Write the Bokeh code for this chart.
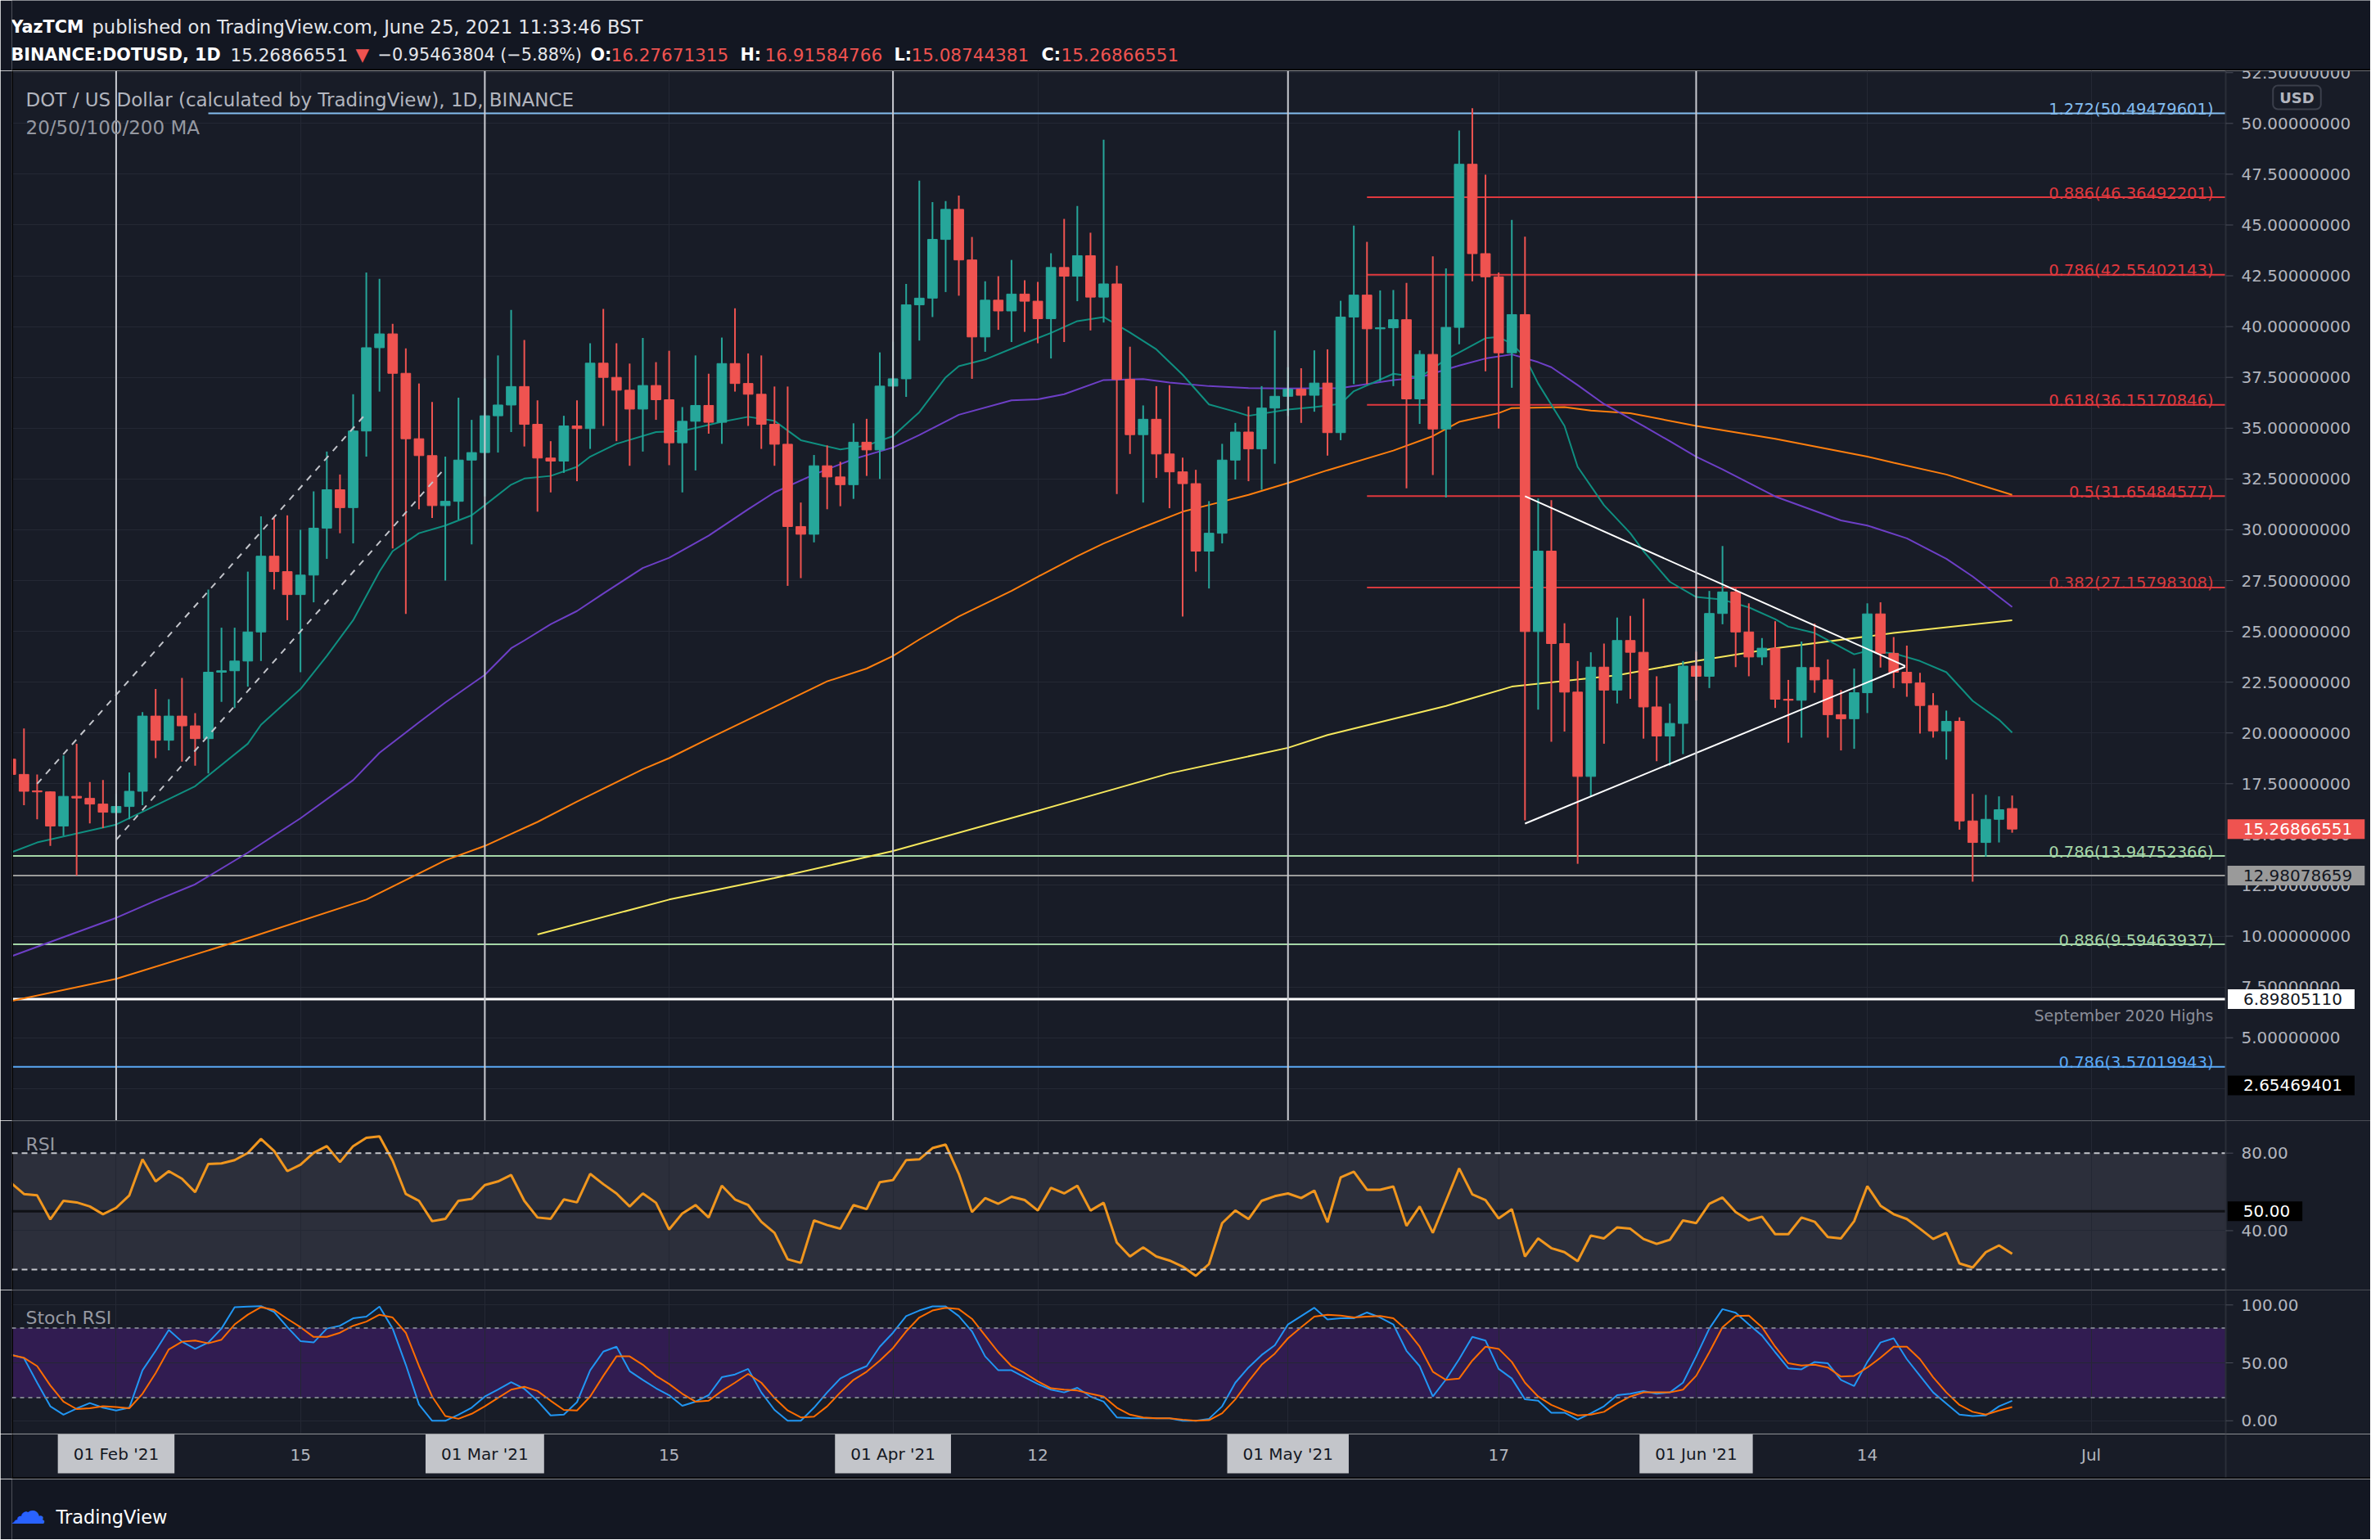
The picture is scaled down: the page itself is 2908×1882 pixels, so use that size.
import pandas as pd
from bokeh.plotting import figure
from bokeh.layouts import column
from bokeh.models import (Range1d, FixedTicker, Span, BoxAnnotation, Label, Arrow,
                          ColumnDataSource)
from bokeh.embed import file_html
from bokeh.resources import INLINE

# ===================== DATA =====================
first_date = "2021-01-24"          # one daily candle per day from this date

opens = [
    18.71, 17.96, 17.15, 17.10, 15.42, 16.88, 16.78, 16.50, 16.08, 16.38,
    17.13, 20.83, 19.64, 20.83, 20.35, 19.72, 22.99, 23.06, 23.54, 24.97,
    28.70, 27.94, 26.81, 27.77, 30.08, 31.97, 31.09, 34.86, 38.96, 39.64,
    37.70, 34.48, 33.65, 31.19, 31.40, 33.43, 33.80, 35.61, 36.14, 37.05,
    35.19, 33.53, 33.38, 35.11, 34.98, 38.20, 37.50, 36.87, 35.94, 37.10,
    36.40, 34.28, 35.34, 36.12, 35.29, 38.18, 37.20, 36.67, 35.19, 34.21,
    30.16, 29.78, 33.15, 32.60, 32.22, 34.31, 33.93, 37.07, 37.43, 41.07,
    41.40, 44.29, 45.77, 43.28, 39.49, 41.30, 40.77, 41.60, 41.25, 40.39,
    42.91, 42.48, 43.49, 41.45, 42.10, 37.40, 34.68, 35.44, 33.73, 32.85,
    32.27, 28.95, 29.83, 33.43, 34.81, 33.98, 35.99, 36.57, 36.92, 36.62,
    37.22, 34.78, 40.47, 41.55, 39.89, 39.94, 40.34, 36.44, 38.63, 34.96,
    39.96, 47.99, 43.59, 42.45, 38.71, 40.59, 24.99, 28.95, 24.40, 22.01,
    17.86, 23.24, 22.11, 24.55, 23.97, 21.28, 19.85, 20.47, 23.29, 22.79,
    25.88, 26.94, 24.97, 23.74, 24.17, 21.66, 21.61, 23.22, 22.61, 20.90,
    20.70, 21.98, 25.86, 23.92, 22.99, 22.46, 21.35, 20.10, 20.57, 15.67,
    14.61, 15.75, 16.28,
]
highs = [
    18.95, 20.22, 17.96, 17.13, 18.89, 19.47, 17.58, 17.68, 17.00, 18.06,
    21.03, 22.16, 21.66, 22.71, 20.98, 27.06, 25.18, 25.18, 27.94, 30.66,
    30.58, 30.71, 30.00, 31.89, 33.85, 32.72, 36.67, 42.66, 42.35, 40.14,
    38.93, 37.20, 36.29, 33.60, 36.50, 35.41, 37.45, 38.58, 40.82, 39.34,
    36.37, 34.36, 35.61, 36.37, 39.18, 40.87, 39.18, 38.18, 39.44, 38.25,
    38.81, 36.04, 38.58, 37.68, 39.46, 40.90, 38.68, 38.58, 37.05, 37.05,
    31.34, 33.68, 34.15, 33.35, 35.24, 35.46, 38.73, 39.26, 42.10, 47.18,
    46.13, 46.18, 46.45, 44.41, 42.23, 42.48, 43.28, 42.28, 42.20, 43.61,
    45.30, 45.93, 44.62, 49.20, 43.00, 39.01, 36.12, 37.07, 37.12, 33.55,
    32.95, 31.41, 34.23, 35.26, 36.07, 37.07, 39.81, 38.00, 37.95, 38.83,
    38.88, 41.27, 44.97, 44.17, 41.78, 41.80, 42.15, 38.83, 43.46, 42.86,
    49.65, 50.75, 47.48, 42.66, 45.25, 44.42, 31.54, 31.46, 25.40, 23.54,
    23.97, 24.40, 25.68, 25.76, 26.61, 22.79, 21.45, 23.54, 24.00, 26.99,
    29.20, 27.11, 26.38, 24.67, 25.50, 22.61, 24.50, 25.38, 23.62, 22.11,
    23.17, 26.38, 26.43, 24.72, 24.30, 22.96, 21.96, 21.10, 20.77, 17.00,
    16.95, 16.88, 16.92,
]
lows = [
    17.75, 16.45, 15.75, 14.44, 14.94, 12.98, 15.55, 15.32, 15.60, 15.75,
    16.45, 18.76, 19.14, 18.59, 18.39, 18.01, 21.53, 21.23, 22.28, 23.54,
    27.06, 25.55, 22.99, 26.43, 28.57, 29.83, 29.33, 33.60, 36.80, 29.08,
    25.86, 31.01, 30.58, 27.50, 30.50, 29.28, 31.64, 33.80, 34.81, 34.10,
    30.89, 31.84, 32.80, 32.39, 33.98, 35.11, 34.36, 33.15, 33.85, 35.41,
    33.18, 31.84, 32.92, 34.73, 34.23, 36.80, 35.11, 33.98, 33.15, 27.24,
    27.62, 29.38, 31.01, 31.16, 31.52, 32.65, 32.50, 35.24, 36.54, 39.31,
    40.47, 41.70, 41.52, 37.43, 38.76, 39.84, 39.24, 39.74, 39.18, 38.43,
    39.24, 41.25, 39.81, 40.20, 31.76, 33.73, 31.34, 32.55, 31.06, 25.73,
    27.94, 27.11, 29.33, 32.47, 32.39, 31.97, 33.25, 35.60, 35.26, 35.81,
    33.65, 34.41, 37.17, 37.17, 37.32, 37.07, 32.04, 35.21, 32.70, 31.59,
    39.13, 42.23, 37.80, 34.98, 36.99, 15.70, 21.15, 19.57, 20.07, 13.56,
    16.88, 19.47, 21.45, 21.68, 19.72, 18.61, 18.39, 18.96, 21.60, 22.21,
    25.35, 23.24, 22.79, 23.34, 21.23, 19.52, 19.77, 21.98, 19.77, 19.14,
    19.22, 20.98, 23.22, 22.21, 21.78, 19.97, 19.77, 18.69, 15.24, 12.68,
    13.91, 14.61, 15.09,
]
closes = [
    17.96, 17.13, 17.10, 15.42, 16.88, 16.80, 16.50, 16.10, 16.38, 17.13,
    20.83, 19.64, 20.83, 20.35, 19.72, 22.99, 23.06, 23.54, 24.97, 28.70,
    27.94, 26.81, 27.77, 30.08, 31.97, 31.09, 34.86, 38.96, 39.64, 37.70,
    34.48, 33.65, 31.19, 31.40, 33.43, 33.80, 35.61, 36.14, 37.05, 35.19,
    33.53, 33.38, 35.11, 34.98, 38.20, 37.50, 36.87, 35.94, 37.10, 36.40,
    34.28, 35.34, 36.12, 35.29, 38.18, 37.20, 36.67, 35.19, 34.21, 30.16,
    29.78, 33.15, 32.60, 32.22, 34.31, 33.93, 37.07, 37.43, 41.07, 41.40,
    44.29, 45.77, 43.28, 39.49, 41.30, 40.77, 41.60, 41.25, 40.39, 42.91,
    42.48, 43.49, 41.45, 42.10, 37.40, 34.68, 35.44, 33.73, 32.85, 32.27,
    28.95, 29.83, 33.43, 34.81, 33.98, 35.99, 36.57, 36.92, 36.62, 37.22,
    34.78, 40.47, 41.55, 39.89, 39.94, 40.34, 36.44, 38.63, 34.96, 39.96,
    47.99, 43.59, 42.45, 38.71, 40.59, 24.99, 28.95, 24.40, 22.01, 17.86,
    23.24, 22.11, 24.55, 23.97, 21.28, 19.85, 20.47, 23.29, 22.79, 25.88,
    26.94, 24.97, 23.74, 24.17, 21.66, 21.61, 23.22, 22.61, 20.90, 20.70,
    21.98, 25.86, 23.92, 22.99, 22.46, 21.35, 20.10, 20.57, 15.67, 14.61,
    15.75, 16.22, 15.27,
]

rsi = [
    64.7, 58.9, 58.2, 45.8, 55.4, 54.6, 52.5, 48.5, 51.8, 58.2,
    76.8, 65.4, 70.7, 66.8, 59.9, 74.4, 74.7, 76.4, 80.1, 87.3,
    81.1, 70.7, 74.0, 80.1, 83.6, 75.4, 83.6, 87.9, 88.6, 76.1,
    58.9, 55.4, 44.9, 46.1, 55.4, 56.4, 63.5, 65.4, 68.7, 55.4,
    46.8, 46.1, 56.1, 54.6, 69.3, 64.0, 59.2, 52.5, 59.2, 54.4,
    40.6, 48.9, 53.2, 46.8, 63.2, 56.1, 53.2, 44.6, 38.9, 25.3,
    23.4, 45.3, 42.9, 41.0, 53.2, 51.1, 65.0, 66.1, 76.4, 76.8,
    82.6, 84.4, 69.3, 49.6, 56.8, 53.9, 57.5, 55.8, 50.4, 62.1,
    59.2, 63.2, 50.4, 54.4, 33.9, 26.7, 31.4, 26.7, 24.6, 21.5,
    16.7, 22.8, 43.9, 50.4, 46.0, 55.4, 57.8, 59.2, 56.8, 60.7,
    44.3, 67.5, 70.4, 61.1, 61.1, 62.8, 42.5, 52.5, 38.9, 55.4,
    72.1, 58.7, 55.8, 46.3, 51.1, 26.7, 36.0, 31.0, 28.9, 24.3,
    37.5, 36.0, 41.7, 41.0, 35.7, 33.2, 35.3, 45.3, 43.9, 53.9,
    57.1, 49.6, 45.3, 47.2, 38.2, 38.2, 46.8, 44.6, 36.7, 36.0,
    44.9, 63.0, 52.9, 48.5, 46.0, 41.0, 35.7, 38.9, 23.1, 21.0,
    28.9, 32.4, 28.1,
]
stoch_k = [
    57.3, 54.0, 32.9, 12.5, 5.3, 10.6, 15.3, 11.3, 8.9, 11.3,
    43.6, 60.4, 78.4, 68.3, 62.1, 67.6, 79.6, 98.1, 98.6, 99.0,
    94.0, 80.8, 68.8, 67.6, 79.6, 82.0, 88.5, 89.9, 98.6, 79.6,
    48.4, 14.1, 0.0, 0.0, 5.3, 11.3, 20.9, 26.9, 33.3, 27.6,
    17.3, 4.6, 5.3, 16.1, 43.6, 59.7, 64.0, 42.9, 35.3, 28.1,
    22.1, 12.9, 16.5, 22.1, 37.6, 40.0, 44.8, 24.5, 9.4, 0.0,
    0.0, 11.3, 24.5, 36.5, 42.4, 47.2, 64.0, 76.0, 90.4, 95.2,
    98.8, 98.8, 90.4, 77.2, 55.6, 43.6, 43.6, 37.6, 31.7, 26.9,
    24.5, 28.5, 20.9, 16.5, 2.9, 2.4, 2.2, 2.2, 2.2, 0.0,
    0.0, 1.7, 12.5, 32.9, 46.0, 56.8, 65.2, 83.2, 90.4, 97.6,
    87.5, 88.5, 88.5, 93.5, 89.2, 83.2, 60.4, 47.2, 20.9, 35.7,
    53.2, 72.4, 69.3, 44.8, 36.5, 18.5, 17.3, 7.0, 7.0, 1.0,
    6.5, 12.5, 22.1, 23.3, 25.7, 23.3, 24.5, 32.9, 55.6, 79.6,
    96.4, 93.3, 83.2, 73.6, 59.2, 45.3, 44.4, 50.8, 49.6, 35.3,
    30.0, 50.8, 67.6, 71.2, 53.2, 38.8, 24.5, 14.9, 5.3, 4.1,
    4.6, 12.5, 17.3,
]
stoch_d = [
    56.8, 54.4, 47.2, 30.5, 16.5, 10.1, 10.8, 12.5, 11.8, 10.8,
    23.3, 41.2, 61.6, 68.3, 69.3, 66.9, 70.0, 83.2, 91.6, 98.1,
    95.7, 88.0, 80.8, 72.4, 72.4, 76.0, 82.0, 85.6, 91.6, 89.2,
    76.0, 47.2, 20.9, 4.1, 1.7, 6.0, 12.5, 19.7, 26.9, 29.3,
    25.7, 17.3, 9.4, 8.9, 20.9, 38.8, 55.6, 55.6, 48.4, 38.8,
    31.7, 23.3, 16.5, 17.3, 25.7, 32.9, 40.5, 32.9, 19.7, 8.9,
    2.9, 3.6, 12.5, 24.5, 35.3, 42.4, 52.0, 62.8, 77.2, 89.2,
    95.2, 97.6, 96.4, 88.0, 73.6, 59.2, 47.2, 41.2, 34.1, 28.1,
    26.9, 26.1, 23.3, 20.9, 11.3, 5.3, 2.9, 2.2, 2.2, 1.0,
    0.0, 0.5, 6.5, 18.5, 34.1, 48.4, 58.0, 71.2, 80.8, 89.9,
    91.6, 90.9, 89.2, 89.9, 90.4, 88.5, 78.4, 64.0, 42.4, 35.3,
    36.5, 52.0, 64.0, 62.1, 50.8, 32.9, 20.9, 13.7, 8.9, 4.6,
    5.3, 7.7, 14.9, 20.9, 24.5, 24.5, 24.5, 26.9, 38.8, 59.2,
    80.8, 90.4, 90.9, 80.8, 64.0, 49.6, 47.7, 48.4, 46.0, 38.1,
    38.8, 46.0, 54.4, 64.0, 64.0, 53.2, 37.6, 24.5, 13.7, 7.7,
    5.3, 8.9, 11.8,
]

# moving averages, sampled: days after 2021-02-01 -> value
ma_ref = "2021-02-01"
ma20_days = [-8, -6, 0, 2, 6, 10, 11, 14, 16, 18, 20, 21, 23, 25, 27, 28, 30, 31, 33, 35,
             36, 38, 41, 43, 46, 48, 50, 52, 55, 57, 59, 61, 63, 64, 66, 69, 71, 73, 75, 77,
             79, 81, 83, 85, 86, 89, 91, 93, 94, 97, 99, 101, 104, 105, 106, 107, 108, 110, 111, 113,
             115, 116, 118, 120, 122, 124, 126, 127, 129, 132, 133, 135, 137, 139, 141, 143, 144]
ma20_vals = [14.11, 14.61, 15.49, 16.12, 17.38, 19.47, 20.40, 22.16, 23.79, 25.55,
             27.94, 28.95, 29.83, 30.21, 30.71, 31.21, 32.22, 32.52, 32.65, 33.10,
             33.60, 34.23, 34.81, 34.86, 35.31, 35.56, 35.36, 34.41, 33.95, 34.15,
             34.61, 35.79, 37.50, 38.05, 38.38, 39.18, 39.69, 40.27, 40.47, 39.71,
             38.88, 37.63, 36.17, 35.81, 35.61, 35.92, 36.04, 36.20, 36.82, 37.68,
             37.50, 38.38, 39.43, 39.49, 39.15, 38.50, 37.20, 35.11, 33.10, 31.21,
             29.83, 28.95, 27.44, 26.69, 26.56, 26.18, 25.60, 25.23, 24.92, 23.87,
             24.04, 23.92, 23.54, 22.99, 21.58, 20.65, 20.02]
ma50_days = [-8, -4, 0, 3, 6, 10, 14, 18, 20, 23, 25, 28, 30, 31, 33, 35, 37, 40, 42, 45,
             48, 50, 53, 56, 59, 61, 64, 68, 70, 72, 75, 78, 80, 83, 86, 89, 93, 97, 99, 102,
             104, 106, 108, 109, 111, 113, 116, 118, 120, 122, 126, 131, 133, 136, 139, 141, 144]
ma50_vals = [9.00, 9.95, 10.90, 11.75, 12.55, 14.11, 15.80, 17.68, 19.02, 20.52,
             21.50, 22.86, 24.17, 24.55, 25.35, 26.00, 26.86, 28.12, 28.62, 29.71,
             31.01, 31.84, 32.72, 33.48, 34.05, 34.66, 35.66, 36.37, 36.42, 36.67,
             37.37, 37.42, 37.25, 37.07, 36.97, 36.95, 36.97, 37.37, 37.50, 38.08,
             38.43, 38.63, 38.25, 38.00, 37.12, 36.19, 35.11, 34.36, 33.60, 32.97,
             31.64, 30.46, 30.21, 29.58, 28.57, 27.70, 26.20]
ma100_days = [-8, 0, 10, 19, 25, 28, 32, 35, 40, 42, 45, 50, 54, 57, 59, 61, 64, 68, 70, 73,
              75, 78, 81, 83, 86, 89, 92, 97, 100, 102, 105, 106, 110, 112, 115, 120, 126, 133, 135, 139,
              144]
ma100_vals = [6.80, 7.90, 9.90, 11.80, 13.73, 14.44, 15.62, 16.62, 18.21, 18.76,
              19.72, 21.28, 22.54, 23.17, 23.79, 24.60, 25.73, 26.99, 27.69, 28.70,
              29.33, 30.13, 30.89, 31.22, 31.72, 32.30, 32.93, 33.90, 34.61, 35.31,
              35.74, 35.99, 36.04, 35.87, 35.74, 35.11, 34.48, 33.60, 33.30, 32.72,
              31.72]
ma200_days = [32, 42, 50, 59, 70, 80, 89, 92, 101, 106, 114, 120, 126, 135, 144]
ma200_vals = [10.08, 11.80, 12.86, 14.19, 16.17, 18.01, 19.27, 19.90, 21.33, 22.28,
              22.84, 23.54, 24.17, 24.92, 25.55]

# drawings
channel_upper_x = ["2021-01-26 00:00", "2021-02-19 23:00"]
channel_upper_y = [17.50, 35.70]
channel_lower_x = ["2021-02-01 00:00", "2021-02-26 00:00"]
channel_lower_y = [14.74, 33.05]
triangle_upper_x = ["2021-05-19 00:00", "2021-06-16 21:00"]
triangle_upper_y = [31.65, 23.30]
triangle_lower_x = ["2021-05-19 00:00", "2021-06-16 21:00"]
triangle_lower_y = [15.54, 23.26]

fib_levels = [50.49479601, 46.36492201, 42.55402143, 36.15170846, 31.65484577, 27.15798308]
fib_texts = ["1.272(50.49479601)", "0.886(46.36492201)", "0.786(42.55402143)",
             "0.618(36.15170846)", "0.5(31.65484577)", "0.382(27.15798308)"]
fib_starts = ["2021-02-08", "2021-05-07", "2021-05-07", "2021-05-07", "2021-05-07", "2021-05-07"]
fib_colors = ["#84bdf0", "#e0383e", "#e0383e", "#e0383e", "#e0383e", "#d63a3e"]

low_levels = [13.94752366, 9.59463937, 3.57019943]
low_texts = ["0.786(13.94752366)", "0.886(9.59463937)", "0.786(3.57019943)"]
low_colors = ["#a5d6a7", "#a5d6a7", "#5aa9f6"]

support_level = 12.98078659
sept_high_level = 6.89805110
last_price = 15.26866551
lowest_tag = 2.65469401

month_lines = ["2021-02-01", "2021-03-01", "2021-04-01", "2021-05-01", "2021-06-01"]
tick_dates = ["2021-02-01", "2021-02-15", "2021-03-01", "2021-03-15", "2021-04-01", "2021-04-12",
              "2021-05-01", "2021-05-17", "2021-06-01", "2021-06-14", "2021-07-01"]
tick_labels = ["01 Feb '21", "15", "01 Mar '21", "15", "01 Apr '21", "12",
               "01 May '21", "17", "01 Jun '21", "14", "Jul"]
tick_boxed = [True, False, True, False, True, False, True, False, True, False, False]
price_ticks = [2.5 * i for i in range(1, 22)]
price_ticks_hidden = [2.5, 7.5, 12.5, 15.0]      # covered by the price tags
rsi_ticks = [40, 80]
stoch_ticks = [0, 50, 100]

for arr in (highs, lows, closes, rsi, stoch_k, stoch_d):
    assert len(arr) == len(opens)

# ===================== STYLE / LAYOUT =====================
W = 2896             # figure width (page x 0..2896)
FRAME_L = 14         # chart frame starts here
SCALE_X = 2719       # price-scale column starts here
PAGE_BG = "#131722"
CHART_BG = "#181c27"
GRID = "#242834"
TXT = "#b2b5be"
FONT = "DejaVu Sans"
UP, DOWN = "#26a69a", "#ef5350"
PX_PER_DAY = 16.088


def ms(t):
    return pd.Timestamp(t).value / 1e6


def to_ts(lst):
    return [pd.Timestamp(v) for v in lst]


ref = pd.Timestamp(ma_ref)
X0 = ms(ref - pd.Timedelta(days=7.92))
X1 = ms(ref + pd.Timedelta(days=160.22))                      # left edge of the price scale
XE = ms(ref + pd.Timedelta(days=160.22 + (W - SCALE_X) / PX_PER_DAY))
x_range = Range1d(X0, XE)
MS_PER_PX = (XE - X0) / (W - FRAME_L)
tick_ms = [ms(t) for t in tick_dates]


def add_label(fig, x, y, text, color=TXT, size="20px", align="left", baseline="alphabetic",
              xo=0, yo=0, bg=None, pad=None, style="normal", border=None, radius=0,
              level="annotation"):
    kw = dict(x=x, y=y, text=text, text_color=color, text_font=FONT, text_font_size=size,
              text_align=align, text_baseline=baseline, x_offset=xo, y_offset=yo,
              text_font_style=style, level=level)
    if bg is not None:
        kw.update(background_fill_color=bg, background_fill_alpha=1.0)
    if pad is not None:
        kw["padding"] = pad
    if border is not None:
        kw.update(border_line_color=border, border_line_width=2)
    if radius:
        kw["border_radius"] = radius
    fig.add_layout(Label(**kw))


def pane(height, y_range, yticks):
    f = figure(width=W, height=height, x_range=x_range, y_range=y_range,
               x_axis_location=None, y_axis_location=None,
               output_backend="svg", toolbar_location=None,
               background_fill_color=CHART_BG, border_fill_color=PAGE_BG,
               min_border_left=FRAME_L, min_border_right=0, min_border_top=0,
               min_border_bottom=0, outline_line_color=None)
    f.xgrid.ticker = FixedTicker(ticks=tick_ms)
    f.ygrid.ticker = FixedTicker(ticks=yticks)
    f.grid.grid_line_color = GRID
    f.add_layout(Span(location=X0, dimension="height", line_color="#000000", line_width=3))
    return f


def price_scale(fig, ticks, texts, marks):
    """Right-hand value scale drawn inside the frame, over the chart."""
    fig.add_layout(BoxAnnotation(left=X1, fill_color=CHART_BG, fill_alpha=1.0, line_color=None,
                                 level="overlay"))
    fig.add_layout(Span(location=X1, dimension="height", line_color="#2a2e39", line_width=2,
                        level="overlay"))
    msrc = ColumnDataSource(dict(x0=[X1] * len(marks), x1=[X1 + 9 * MS_PER_PX] * len(marks),
                                 y=marks))
    fig.add_layout(Arrow(x_start="x0", y_start="y", x_end="x1", y_end="y", end=None,
                         line_color="#4a4e5a", line_width=1, source=msrc, level="overlay"))
    for t, s in zip(ticks, texts):
        add_label(fig, X1, t, s, color=TXT, size="20px", baseline="middle", xo=19,
                  level="overlay")


def tag(fig, lvl, text, bg, fg, xo):
    add_label(fig, X1, lvl, text, color=fg, size="20px", align="center", baseline="middle",
              xo=xo, bg=bg, pad=dict(left=19, right=15, top=5, bottom=5), level="overlay")


def plain(height, yr):
    # page coordinates: x from the frame edge to the figure's right edge
    f = figure(width=W, height=height, x_range=Range1d(FRAME_L, W), y_range=yr,
               x_axis_location=None, y_axis_location=None,
               output_backend="svg", toolbar_location=None,
               background_fill_color=PAGE_BG, border_fill_color=PAGE_BG,
               min_border_left=FRAME_L, min_border_right=0, min_border_top=0,
               min_border_bottom=0, outline_line_color=None)
    f.grid.visible = False
    return f


# ---------------- header (page coordinates) ----------------
hdr = plain(86, Range1d(86, 0))
add_label(hdr, 13, 32.5, "YazTCM", color="#ffffff", size="20.7px", style="bold")
add_label(hdr, 112, 32.5, "published on TradingView.com, June 25, 2021 11:33:46 BST",
          color="#e3e5ea", size="22.6px")
line2 = [(13, "BINANCE:DOTUSD, 1D", "#ffffff", "bold", "20.7px"),
         (281, "15.26866551", "#e3e5ea", "normal", "21.5px"),
         (434, "\u25BC", DOWN, "normal", "21.5px"),
         (461, "\u22120.95463804 (\u22125.88%)", "#e3e5ea", "normal", "20.8px"),
         (721, "O:", "#ffffff", "bold", "20.7px"), (746, "16.27671315", DOWN, "normal", "21.5px"),
         (904, "H:", "#ffffff", "bold", "20.7px"), (934, "16.91584766", DOWN, "normal", "21.5px"),
         (1092, "L:", "#ffffff", "bold", "20.7px"), (1113, "15.08744381", DOWN, "normal", "21.5px"),
         (1272, "C:", "#ffffff", "bold", "20.7px"), (1296, "15.26866551", DOWN, "normal", "21.5px")]
for x, t, c, st, sz in line2:
    add_label(hdr, x, 66, t, color=c, size=sz, style=st)
hdr.add_layout(Span(location=85, dimension="width", line_color="#000000", line_width=2))

# ---------------- price pane ----------------
p = pane(1283, Range1d(0.92, 52.59), price_ticks)


def price_at(page_y):
    return 50 + (150.3 - page_y) / 24.83


for lvl, col, lw in [(low_levels[0], low_colors[0], 2), (low_levels[1], low_colors[1], 2),
                     (low_levels[2], low_colors[2], 2), (support_level, "#9b9b9b", 2),
                     (sept_high_level, "#ffffff", 3)]:
    p.add_layout(Span(location=lvl, dimension="width", line_color=col, line_width=lw,
                      level="underlay"))
p.ray(x=[ms(s) for s in fib_starts], y=fib_levels, length=0, angle=0,
      line_color=fib_colors, line_width=2)


def ma_x(days):
    return [ref + pd.Timedelta(days=d) for d in days]


p.line(ma_x(ma200_days), ma200_vals, line_color="#f6e85c", line_width=2)
p.line(ma_x(ma100_days), ma100_vals, line_color="#ff7f0e", line_width=2)
p.line(ma_x(ma50_days), ma50_vals, line_color="#6d3fc6", line_width=2)
p.line(ma_x(ma20_days), ma20_vals, line_color="#0f8f80", line_width=2)

dates = pd.date_range(first_date, periods=len(opens), freq="D")
cols = [UP if c >= o else DOWN for o, c in zip(opens, closes)]
src = ColumnDataSource(dict(x=dates, h=highs, l=lows,
                            top=[max(o, c) for o, c in zip(opens, closes)],
                            bot=[min(o, c) for o, c in zip(opens, closes)], col=cols))
p.segment(x0="x", y0="h", x1="x", y1="l", line_color="col", line_width=2, source=src)
p.vbar(x="x", width=0.73 * 86400000, top="top", bottom="bot", fill_color="col",
       line_color="col", line_width=1, source=src)

p.line(to_ts(channel_upper_x), channel_upper_y, line_color="#c3c5cb", line_width=2,
       line_dash="8 8")
p.line(to_ts(channel_lower_x), channel_lower_y, line_color="#c3c5cb", line_width=2,
       line_dash="8 8")
p.line(to_ts(triangle_upper_x), triangle_upper_y, line_color="#ffffff", line_width=2)
p.line(to_ts(triangle_lower_x), triangle_lower_y, line_color="#ffffff", line_width=2)

for m in month_lines:
    p.add_layout(Span(location=ms(m), dimension="height", line_color="#c9cbd1", line_width=2))

for lvl, t, c in zip(fib_levels + low_levels, fib_texts + low_texts, fib_colors + low_colors):
    add_label(p, X1, lvl, t, color=c, size="19.5px", align="right", xo=-15, yo=5)
add_label(p, X1, sept_high_level, "September 2020 Highs", color="#8c8f99", size="19px",
          align="right", baseline="top", xo=-15, yo=-9)

add_label(p, X0, price_at(121), "DOT / US Dollar (calculated by TradingView), 1D, BINANCE",
          color=TXT, size="23px", baseline="middle", xo=17)
add_label(p, X0, price_at(155), "20/50/100/200 MA", color="#9598a1", size="23px",
          baseline="middle", xo=17)

price_scale(p, price_ticks, ["%.8f" % t for t in price_ticks],
            [t for t in price_ticks if t not in price_ticks_hidden])
tag(p, last_price, "15.26866551", "#ef5350", "#ffffff", 86)
tag(p, support_level, "12.98078659", "#9a9a9a", "#131722", 86)
tag(p, sept_high_level, "6.89805110", "#ffffff", "#131722", 80)
tag(p, lowest_tag, "2.65469401", "#000000", "#ffffff", 80)
add_label(p, X1, price_at(118.5), "USD", color=TXT, size="18px", align="center",
          baseline="middle", xo=87, style="bold", border="#3b3f4b", radius=6,
          pad=dict(left=8, right=8, top=4, bottom=4), bg=CHART_BG, level="overlay")

# ---------------- RSI pane ----------------
r = pane(207, Range1d(9.4, 96.75), rsi_ticks)
r.add_layout(BoxAnnotation(bottom=20, top=80, fill_color="#2c2f3b", fill_alpha=1.0,
                           line_color=None, level="image"))
for lvl in (80, 20):
    r.add_layout(Span(location=lvl, dimension="width", line_color="#c4c6cc", line_width=2,
                      line_dash="7 5"))
r.add_layout(Span(location=50, dimension="width", line_color="#0f1115", line_width=3,
                  level="underlay"))
r.line(dates, rsi, line_color="#f0961e", line_width=3)
add_label(r, X0, 84.5, "RSI", color="#9598a1", size="22px", baseline="middle", xo=17)
price_scale(r, rsi_ticks, ["%.2f" % t for t in rsi_ticks], rsi_ticks)
tag(r, 50, "50.00", "#000000", "#ffffff", 48)
r.add_layout(Span(location=97, dimension="width", line_color="#2a2e39", line_width=3))

# ---------------- Stoch RSI pane ----------------
s = pane(176, Range1d(-11.45, 112.9), stoch_ticks)
s.add_layout(BoxAnnotation(bottom=20, top=80, fill_color="#311c51", fill_alpha=1.0,
                           line_color=None, level="image"))
for lvl in (80, 20):
    s.add_layout(Span(location=lvl, dimension="width", line_color="#7b7e8a", line_width=2,
                      line_dash="5 5"))
s.line(dates, stoch_k, line_color="#2196f3", line_width=2)
s.line(dates, stoch_d, line_color="#ff6d00", line_width=2)
add_label(s, X0, 88.9, "Stoch RSI", color="#9598a1", size="22px", baseline="middle", xo=17)
price_scale(s, stoch_ticks, ["%.2f" % t for t in stoch_ticks], stoch_ticks)
s.add_layout(Span(location=113.3, dimension="width", line_color="#2a2e39", line_width=3))
s.add_layout(Span(location=-11.8, dimension="width", line_color="#2a2e39", line_width=3))

# ---------------- time axis strip ----------------
xa = figure(width=W, height=55, x_range=x_range, y_range=Range1d(1807, 1752),
            x_axis_location=None, y_axis_location=None, output_backend="svg",
            toolbar_location=None, background_fill_color=CHART_BG, border_fill_color=PAGE_BG,
            min_border_left=FRAME_L, min_border_right=0, min_border_top=0, min_border_bottom=0,
            outline_line_color=None)
xa.grid.visible = False
xa.add_layout(Span(location=X1, dimension="height", line_color="#2a2e39", line_width=2))
xa.add_layout(Span(location=X0, dimension="height", line_color="#000000", line_width=3))
xa.add_layout(Span(location=1806, dimension="width", line_color="#000000", line_width=2))
for t, lbl, boxed in zip(tick_ms, tick_labels, tick_boxed):
    if boxed:
        add_label(xa, t, 1776, lbl, color="#131722", size="20px", align="center",
                  baseline="middle", bg="#c3c5ca", pad=dict(left=19, right=19, top=12, bottom=12))
    else:
        add_label(xa, t, 1777, lbl, color=TXT, size="20px", align="center", baseline="middle")

# ---------------- footer (page coordinates) ----------------
ft = plain(74, Range1d(1881, 1807))
add_label(ft, 34, 1846, "\u2601", color="#2962ff", size="44px", align="center", baseline="middle")
add_label(ft, 68, 1853, "TradingView", color="#ffffff", size="22.5px")

layout = column(hdr, p, r, s, xa, ft, spacing=0)
open("out.html", "w").write(file_html(layout, INLINE).replace(
    "<body>", '<body style="background:#131722;">', 1))
